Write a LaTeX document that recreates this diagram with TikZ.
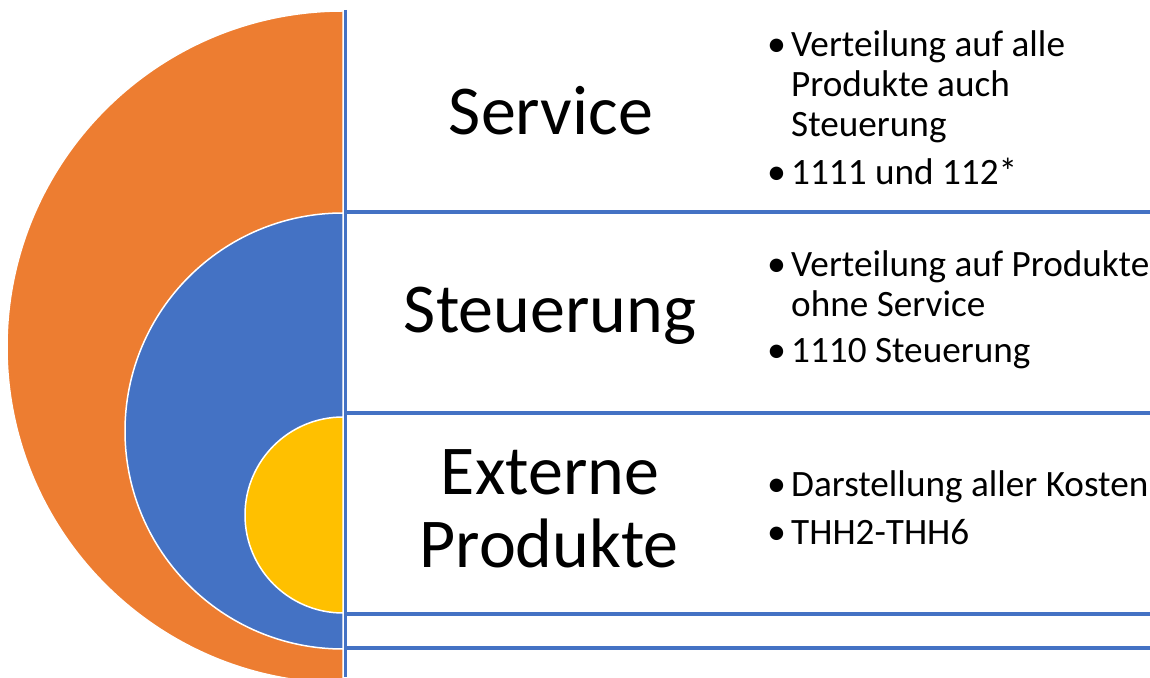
\documentclass[tikz,border=0pt]{standalone}
\usepackage{fontspec}
\setmainfont{Carlito}
\definecolor{corange}{HTML}{ED7D31}
\definecolor{cblue}{HTML}{4472C4}
\definecolor{cyellow}{HTML}{FFC000}
\begin{document}
\begin{tikzpicture}[x=1pt,y=1pt,
  disc/.style={draw=white,line width=1.5pt},
  rule/.style={draw=cblue,line width=3.2pt},
  big/.style={inner sep=0pt,anchor=base,font=\fontsize{70}{84}\selectfont},
  itemtext/.style={inner sep=0pt,anchor=base west,font=\fontsize{37.2}{44}\selectfont},
  bul/.style={inner sep=0pt,anchor=base west,font=\fontsize{38}{44}\selectfont}]
\useasboundingbox (0,0) rectangle (1150,677);
\begin{scope}
\clip (0,0) rectangle (1150,677);
\fill[corange,disc] (343,666) arc[start angle=90,end angle=270,radius=336] -- cycle;
\fill[cblue,disc] (343,464) arc[start angle=90,end angle=270,radius=218] -- cycle;
\fill[cyellow,disc] (343,260) arc[start angle=90,end angle=270,radius=98] -- cycle;
\coordinate (vt) at (345.5,667);
\coordinate (vb) at (345.5,0);
\draw[rule] (vt) -- (vb);
\coordinate (h1a) at (347,465); \coordinate (h1b) at (1150,465);
\coordinate (h2a) at (347,264); \coordinate (h2b) at (1150,264);
\coordinate (h3a) at (347,63);  \coordinate (h3b) at (1150,63);
\coordinate (h4a) at (347,29);  \coordinate (h4b) at (1150,29);
\draw[rule] (h1a) -- (h1b);
\draw[rule] (h2a) -- (h2b);
\draw[rule] (h3a) -- (h3b);
\draw[rule] (h4a) -- (h4b);
\end{scope}
\node[big] (service) at (551,542) {Service};
\node[big] (steuerung) at (550,344) {Steuerung};
\node[big] (externe) at (550,182) {Externe};
\node[big] (produkte) at (549,110) {Produkte};
% Service bullets
\node[bul] (b1) at (767,620) {•};
\node[itemtext] (s1a) at (791,620) {Verteilung auf alle};
\node[itemtext] (s1b) at (791,580) {Produkte auch};
\node[itemtext] (s1c) at (791,540) {Steuerung};
\node[bul] (b2) at (767,492) {•};
\node[itemtext] (s2) at (791,492) {1111 und 112*};
% Steuerung bullets
\node[bul] (b3) at (767,400) {•};
\node[itemtext] (t1a) at (791,400) {Verteilung auf Produkte};
\node[itemtext] (t1b) at (791,360) {ohne Service};
\node[bul] (b4) at (767,314) {•};
\node[itemtext] (t2) at (791,314) {1110 Steuerung};
% Externe bullets
\node[bul] (b5) at (767,180) {•};
\node[itemtext] (e1) at (791,180) {Darstellung aller Kosten};
\node[bul] (b6) at (767,132) {•};
\node[itemtext] (e2) at (791,132) {THH2-THH6};
\end{tikzpicture}
\end{document}
